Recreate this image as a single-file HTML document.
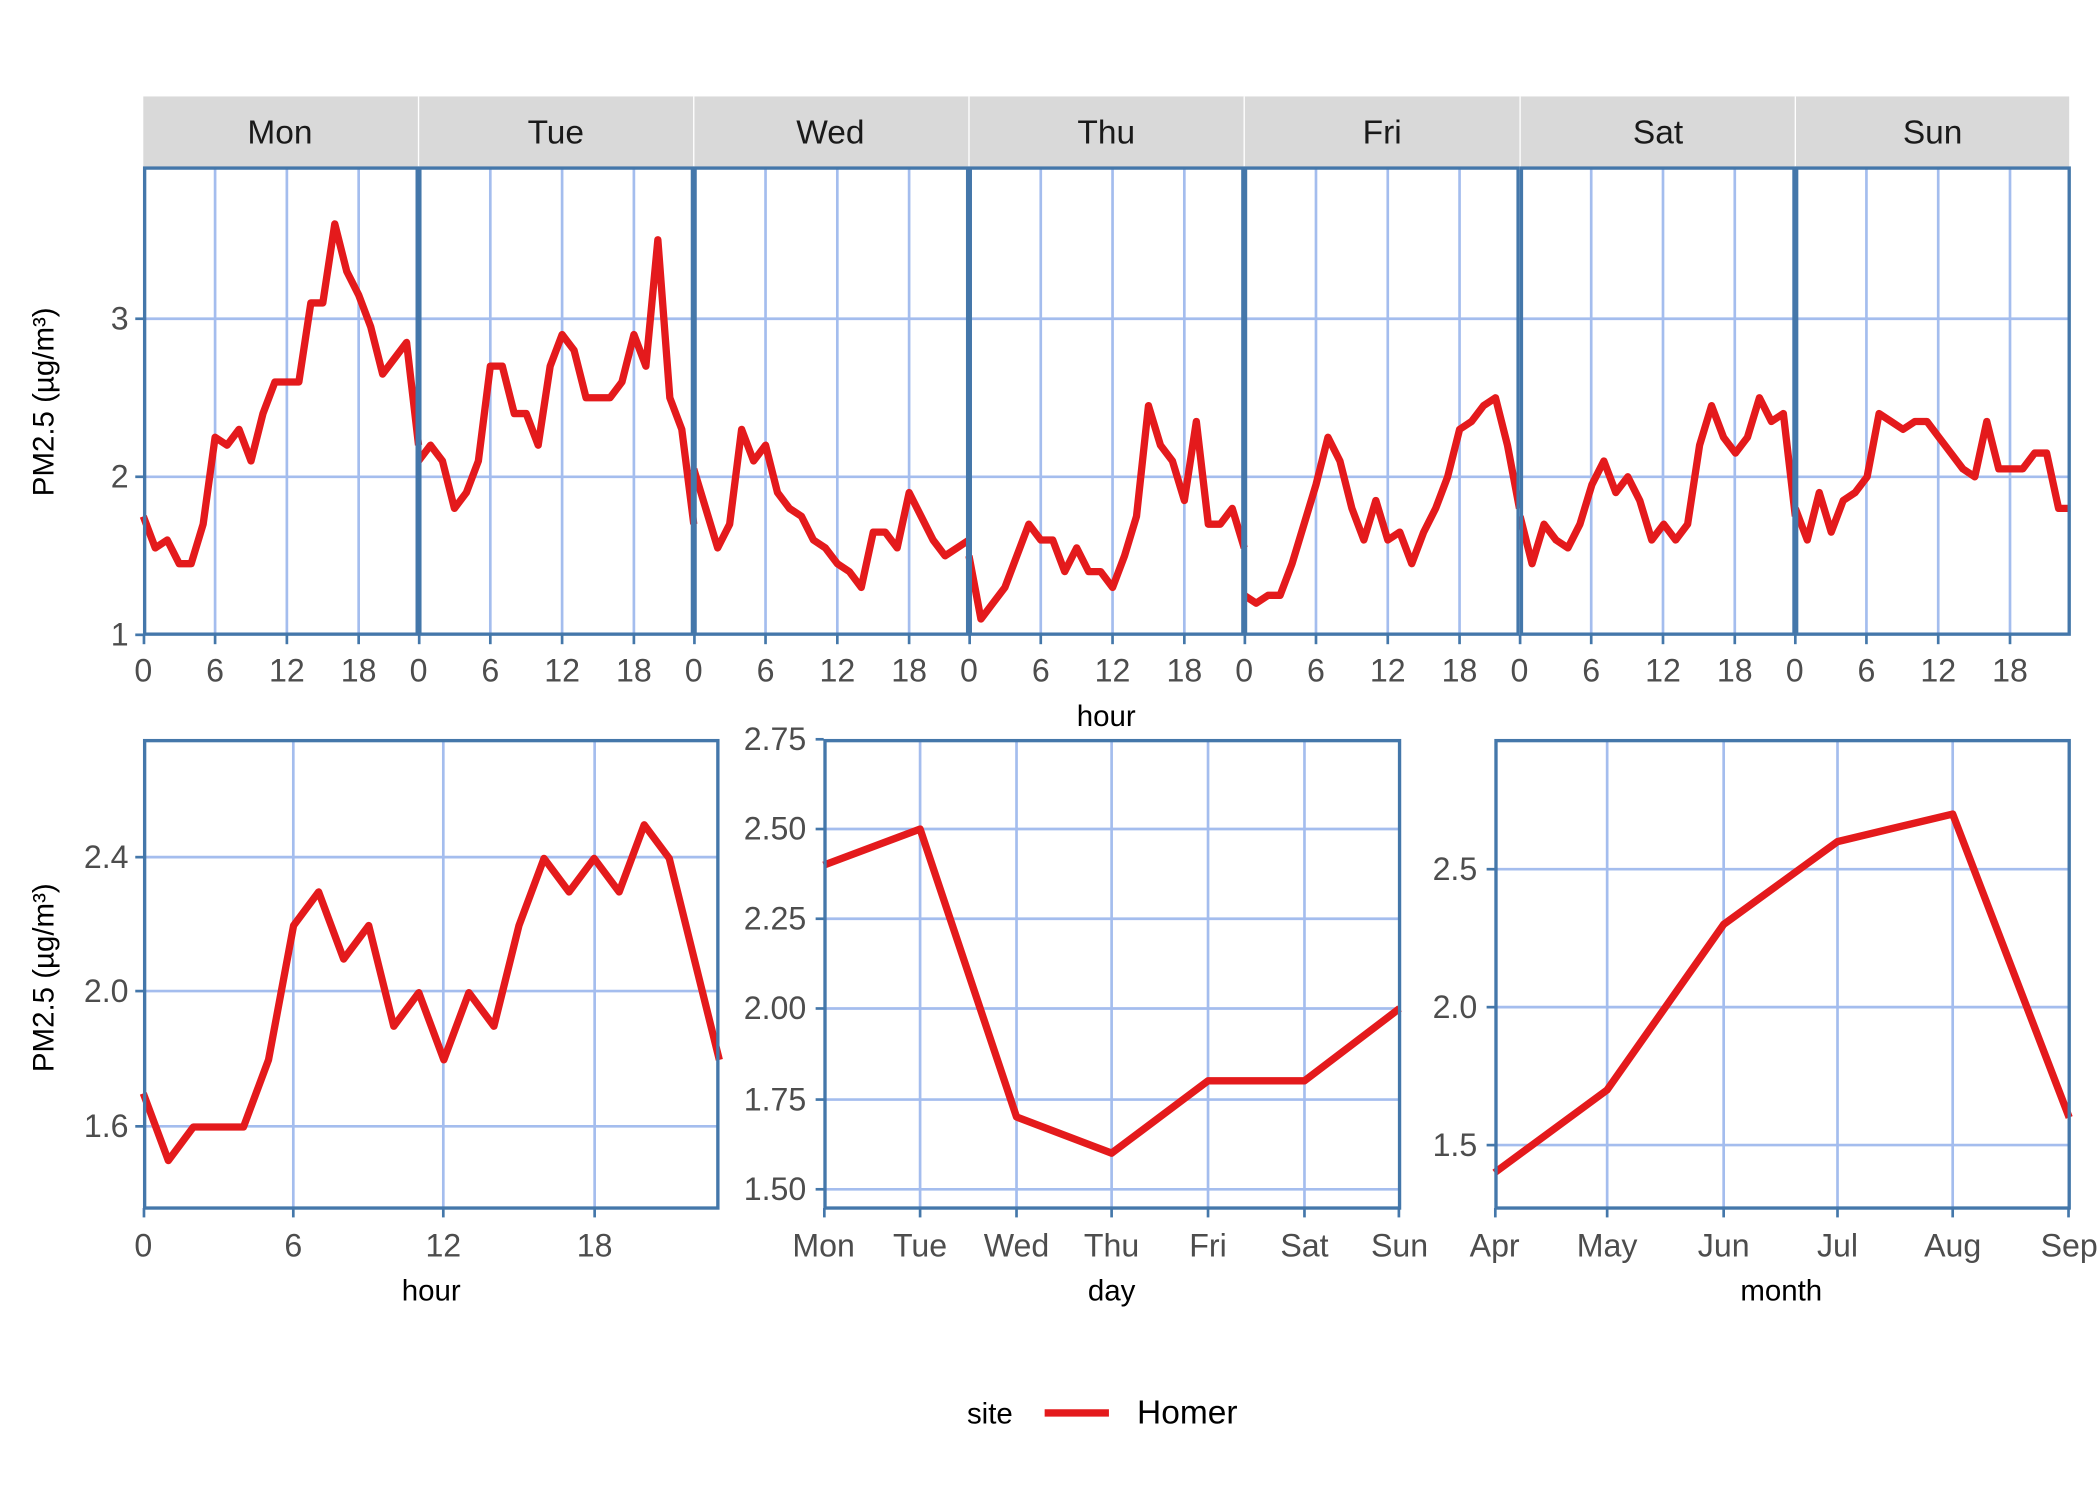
<!DOCTYPE html>
<html><head><meta charset="utf-8"><style>
html,body{margin:0;padding:0;background:#fff;width:2100px;height:1500px;overflow:hidden}
text{font-family:"Liberation Sans",sans-serif}
</style></head><body>
<svg width="2100" height="1500" viewBox="0 0 2100 1500" xmlns="http://www.w3.org/2000/svg">
<g transform="scale(1.33929)">
<!-- strips -->
<rect x="107" y="72" width="1438" height="53" fill="#d9d9d9"/>
<g stroke="#ffffff" stroke-width="1"><line x1="312.5" y1="72" x2="312.5" y2="125"/><line x1="518" y1="72" x2="518" y2="125"/><line x1="723.5" y1="72" x2="723.5" y2="125"/><line x1="929" y1="72" x2="929" y2="125"/><line x1="1135" y1="72" x2="1135" y2="125"/><line x1="1340.5" y1="72" x2="1340.5" y2="125"/></g>
<g font-size="25" fill="#1a1a1a" text-anchor="middle">
<text x="209" y="107">Mon</text><text x="415" y="107">Tue</text><text x="620" y="107">Wed</text><text x="826" y="107">Thu</text><text x="1032" y="107">Fri</text><text x="1238" y="107">Sat</text><text x="1443" y="107">Sun</text></g>
<!-- top grids -->
<g stroke="#a4bdee" stroke-width="2">
<line x1="107" y1="238" x2="1545" y2="238"/><line x1="107" y1="356" x2="1545" y2="356"/>
</g>
<g stroke="#a4bdee" stroke-width="2" id="vg">
<line x1="160.6" y1="125" x2="160.6" y2="474"/><line x1="214.2" y1="125" x2="214.2" y2="474"/><line x1="267.8" y1="125" x2="267.8" y2="474"/>
</g>
<use href="#vg" x="205.5"/><use href="#vg" x="411"/><use href="#vg" x="616.5"/><use href="#vg" x="822"/><use href="#vg" x="1027.5"/><use href="#vg" x="1233"/>
<!-- top lines -->
<g fill="none" stroke="#e41a1c" stroke-width="7.3" stroke-linejoin="round">
<polyline vector-effect="non-scaling-stroke" transform="translate(107,592) scale(8.935,-118)" points="0,1.75 1,1.55 2,1.6 3,1.45 4,1.45 5,1.7 6,2.25 7,2.2 8,2.3 9,2.1 10,2.4 11,2.6 12,2.6 13,2.6 14,3.1 15,3.1 16,3.6 17,3.3 18,3.15 19,2.95 20,2.65 21,2.75 22,2.85 23,2.2"/>
<polyline vector-effect="non-scaling-stroke" transform="translate(312.5,592) scale(8.935,-118)" points="0,2.1 1,2.2 2,2.1 3,1.8 4,1.9 5,2.1 6,2.7 7,2.7 8,2.4 9,2.4 10,2.2 11,2.7 12,2.9 13,2.8 14,2.5 15,2.5 16,2.5 17,2.6 18,2.9 19,2.7 20,3.5 21,2.5 22,2.3 23,1.7"/>
<polyline vector-effect="non-scaling-stroke" transform="translate(518,592) scale(8.935,-118)" points="0,2.05 1,1.8 2,1.55 3,1.7 4,2.3 5,2.1 6,2.2 7,1.9 8,1.8 9,1.75 10,1.6 11,1.55 12,1.45 13,1.4 14,1.3 15,1.65 16,1.65 17,1.55 18,1.9 19,1.75 20,1.6 21,1.5 22,1.55 23,1.6"/>
<polyline vector-effect="non-scaling-stroke" transform="translate(723.5,592) scale(8.935,-118)" points="0,1.5 1,1.1 2,1.2 3,1.3 4,1.5 5,1.7 6,1.6 7,1.6 8,1.4 9,1.55 10,1.4 11,1.4 12,1.3 13,1.5 14,1.75 15,2.45 16,2.2 17,2.1 18,1.85 19,2.35 20,1.7 21,1.7 22,1.8 23,1.55"/>
<polyline vector-effect="non-scaling-stroke" transform="translate(929,592) scale(8.935,-118)" points="0,1.25 1,1.2 2,1.25 3,1.25 4,1.45 5,1.7 6,1.95 7,2.25 8,2.1 9,1.8 10,1.6 11,1.85 12,1.6 13,1.65 14,1.45 15,1.65 16,1.8 17,2.0 18,2.3 19,2.35 20,2.45 21,2.5 22,2.2 23,1.8"/>
<polyline vector-effect="non-scaling-stroke" transform="translate(1135,592) scale(8.935,-118)" points="0,1.75 1,1.45 2,1.7 3,1.6 4,1.55 5,1.7 6,1.95 7,2.1 8,1.9 9,2.0 10,1.85 11,1.6 12,1.7 13,1.6 14,1.7 15,2.2 16,2.45 17,2.25 18,2.15 19,2.25 20,2.5 21,2.35 22,2.4 23,1.75"/>
<polyline vector-effect="non-scaling-stroke" transform="translate(1340.5,592) scale(8.935,-118)" points="0,1.8 1,1.6 2,1.9 3,1.65 4,1.85 5,1.9 6,2.0 7,2.4 8,2.35 9,2.3 10,2.35 11,2.35 12,2.25 13,2.15 14,2.05 15,2.0 16,2.35 17,2.05 18,2.05 19,2.05 20,2.15 21,2.15 22,1.8 23,1.8"/>
</g>
<!-- top borders -->
<g fill="none" stroke="#4477aa" stroke-width="2.5">
<rect x="108" y="125.5" width="203.5" height="348"/><rect x="313.5" y="125.5" width="203.5" height="348"/><rect x="519" y="125.5" width="203.5" height="348"/><rect x="724.5" y="125.5" width="203.5" height="348"/><rect x="930" y="125.5" width="203.5" height="348"/><rect x="1136" y="125.5" width="203.5" height="348"/><rect x="1341.5" y="125.5" width="203.5" height="348"/>
</g>
<!-- top ticks -->
<g stroke="#4477aa" stroke-width="2">
<line x1="101" y1="238" x2="107" y2="238"/><line x1="101" y1="356" x2="107" y2="356"/><line x1="101" y1="474" x2="107" y2="474"/>
</g>
<g stroke="#4477aa" stroke-width="2" id="tk"><line x1="107.5" y1="474" x2="107.5" y2="481"/><line x1="160.6" y1="474" x2="160.6" y2="481"/><line x1="214.2" y1="474" x2="214.2" y2="481"/><line x1="267.8" y1="474" x2="267.8" y2="481"/></g>
<use href="#tk" x="205.5"/><use href="#tk" x="411"/><use href="#tk" x="616.5"/><use href="#tk" x="822"/><use href="#tk" x="1027.5"/><use href="#tk" x="1233"/>
<g font-size="24" fill="#4d4d4d" text-anchor="end"><text x="96" y="246">3</text><text x="96" y="364">2</text><text x="96" y="482">1</text></g>
<g font-size="24" fill="#4d4d4d" text-anchor="middle" id="tl"><text x="107" y="509">0</text><text x="160.6" y="509">6</text><text x="214.2" y="509">12</text><text x="267.8" y="509">18</text></g>
<use href="#tl" x="205.5"/><use href="#tl" x="411"/><use href="#tl" x="616.5"/><use href="#tl" x="822"/><use href="#tl" x="1027.5"/><use href="#tl" x="1233"/>
<text x="826" y="542" font-size="22" text-anchor="middle" fill="#000">hour</text>
<text transform="translate(40,300) rotate(-90)" font-size="22" text-anchor="middle" fill="#000">PM2.5 (µg/m³)</text>
<text transform="translate(40,730) rotate(-90)" font-size="22" text-anchor="middle" fill="#000">PM2.5 (µg/m³)</text>

<!-- bottom left -->
<g stroke="#a4bdee" stroke-width="2">
<line x1="107" y1="640" x2="536" y2="640"/><line x1="107" y1="740" x2="536" y2="740"/><line x1="107" y1="841" x2="536" y2="841"/>
<line x1="219" y1="552" x2="219" y2="902"/><line x1="331" y1="552" x2="331" y2="902"/><line x1="444" y1="552" x2="444" y2="902"/>
</g>
<polyline vector-effect="non-scaling-stroke" fill="none" stroke="#e41a1c" stroke-width="7.3" stroke-linejoin="round" transform="translate(107,1242.6) scale(18.7,-250.7)" points="0,1.7 1,1.5 2,1.6 3,1.6 4,1.6 5,1.8 6,2.2 7,2.3 8,2.1 9,2.2 10,1.9 11,2.0 12,1.8 13,2.0 14,1.9 15,2.2 16,2.4 17,2.3 18,2.4 19,2.3 20,2.5 21,2.4 22,2.1 23,1.8"/>
<rect x="108" y="553" width="428" height="349" fill="none" stroke="#4477aa" stroke-width="2.5"/>
<g stroke="#4477aa" stroke-width="2"><line x1="101" y1="640" x2="107" y2="640"/><line x1="101" y1="740" x2="107" y2="740"/><line x1="101" y1="841" x2="107" y2="841"/>
<line x1="107.5" y1="902" x2="107.5" y2="909"/><line x1="219" y1="902" x2="219" y2="909"/><line x1="331" y1="902" x2="331" y2="909"/><line x1="444" y1="902" x2="444" y2="909"/></g>
<g font-size="24" fill="#4d4d4d" text-anchor="end"><text x="96" y="648">2.4</text><text x="96" y="748">2.0</text><text x="96" y="849">1.6</text></g>
<g font-size="24" fill="#4d4d4d" text-anchor="middle"><text x="107" y="938">0</text><text x="219" y="938">6</text><text x="331" y="938">12</text><text x="444" y="938">18</text></g>
<text x="322" y="971" font-size="22" text-anchor="middle" fill="#000">hour</text>

<!-- bottom middle -->
<g stroke="#a4bdee" stroke-width="2">
<line x1="615" y1="619" x2="1045" y2="619"/><line x1="615" y1="686" x2="1045" y2="686"/><line x1="615" y1="753" x2="1045" y2="753"/><line x1="615" y1="821" x2="1045" y2="821"/><line x1="615" y1="888" x2="1045" y2="888"/>
<line x1="687" y1="552" x2="687" y2="902"/><line x1="759" y1="552" x2="759" y2="902"/><line x1="830" y1="552" x2="830" y2="902"/><line x1="902" y1="552" x2="902" y2="902"/><line x1="974" y1="552" x2="974" y2="902"/>
</g>
<polyline fill="none" stroke="#e41a1c" stroke-width="5.5" stroke-linejoin="round" points="615,646 687,619 759,834 830,861 902,807 974,807 1045,753"/>
<rect x="616" y="553" width="429" height="349" fill="none" stroke="#4477aa" stroke-width="2.5"/>
<g stroke="#4477aa" stroke-width="2"><line x1="609" y1="552" x2="615" y2="552"/><line x1="609" y1="619" x2="615" y2="619"/><line x1="609" y1="686" x2="615" y2="686"/><line x1="609" y1="753" x2="615" y2="753"/><line x1="609" y1="821" x2="615" y2="821"/><line x1="609" y1="888" x2="615" y2="888"/>
<line x1="615.5" y1="902" x2="615.5" y2="909"/><line x1="687" y1="902" x2="687" y2="909"/><line x1="759" y1="902" x2="759" y2="909"/><line x1="830" y1="902" x2="830" y2="909"/><line x1="902" y1="902" x2="902" y2="909"/><line x1="974" y1="902" x2="974" y2="909"/><line x1="1044.5" y1="902" x2="1044.5" y2="909"/></g>
<g font-size="24" fill="#4d4d4d" text-anchor="end"><text x="602" y="560">2.75</text><text x="602" y="627">2.50</text><text x="602" y="694">2.25</text><text x="602" y="761">2.00</text><text x="602" y="829">1.75</text><text x="602" y="896">1.50</text></g>
<g font-size="24" fill="#4d4d4d" text-anchor="middle"><text x="615" y="938">Mon</text><text x="687" y="938">Tue</text><text x="759" y="938">Wed</text><text x="830" y="938">Thu</text><text x="902" y="938">Fri</text><text x="974" y="938">Sat</text><text x="1045" y="938">Sun</text></g>
<text x="830" y="971" font-size="22" text-anchor="middle" fill="#000">day</text>

<!-- bottom right -->
<g stroke="#a4bdee" stroke-width="2">
<line x1="1116" y1="649" x2="1545" y2="649"/><line x1="1116" y1="752" x2="1545" y2="752"/><line x1="1116" y1="855" x2="1545" y2="855"/>
<line x1="1200" y1="552" x2="1200" y2="902"/><line x1="1287" y1="552" x2="1287" y2="902"/><line x1="1372" y1="552" x2="1372" y2="902"/><line x1="1458" y1="552" x2="1458" y2="902"/>
</g>
<polyline fill="none" stroke="#e41a1c" stroke-width="5.5" stroke-linejoin="round" points="1116,875.6 1200,813.8 1287,690.2 1372,628.4 1458,607.8 1545,834.4"/>
<rect x="1117" y="553" width="428" height="349" fill="none" stroke="#4477aa" stroke-width="2.5"/>
<g stroke="#4477aa" stroke-width="2"><line x1="1110" y1="649" x2="1116" y2="649"/><line x1="1110" y1="752" x2="1116" y2="752"/><line x1="1110" y1="855" x2="1116" y2="855"/>
<line x1="1116.5" y1="902" x2="1116.5" y2="909"/><line x1="1200" y1="902" x2="1200" y2="909"/><line x1="1287" y1="902" x2="1287" y2="909"/><line x1="1372" y1="902" x2="1372" y2="909"/><line x1="1458" y1="902" x2="1458" y2="909"/><line x1="1544.5" y1="902" x2="1544.5" y2="909"/></g>
<g font-size="24" fill="#4d4d4d" text-anchor="end"><text x="1103" y="657">2.5</text><text x="1103" y="760">2.0</text><text x="1103" y="863">1.5</text></g>
<g font-size="24" fill="#4d4d4d" text-anchor="middle"><text x="1116" y="938">Apr</text><text x="1200" y="938">May</text><text x="1287" y="938">Jun</text><text x="1372" y="938">Jul</text><text x="1458" y="938">Aug</text><text x="1545" y="938">Sep</text></g>
<text x="1330" y="971" font-size="22" text-anchor="middle" fill="#000">month</text>

<!-- legend -->
<text x="722" y="1063" font-size="22" fill="#000">site</text>
<line x1="780" y1="1055" x2="828" y2="1055" stroke="#e41a1c" stroke-width="5.5"/>
<text x="849" y="1063" font-size="25" fill="#000">Homer</text>
</g>
</svg>
</body></html>
